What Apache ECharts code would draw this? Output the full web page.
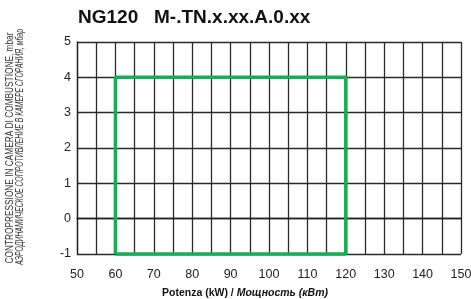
<!DOCTYPE html>
<html>
<head>
<meta charset="utf-8">
<script src="https://cdn.jsdelivr.net/npm/echarts@6/dist/echarts.min.js"></script>
<style>
  html, body { margin: 0; padding: 0; background: #fff; }
  #main { width: 471px; height: 299px; }
</style>
</head>
<body>
<div id="main"></div>
<script>
// working range outline (power kW, back pressure mbar)
var rangePower = [60, 60, 120, 120, 60];
var rangePressure = [-1, 4, 4, -1, -1];

var xMin = 50, xMax = 150, xStep = 10;
var yMin = -1, yMax = 5, yStep = 1;

var titleText = 'NG120   M-.TN.x.xx.A.0.xx';
var yName1 = 'CONTROPRESSIONE IN CAMERA DI COMBUSTIONE, mbar';
var yName2 = 'АЭРОДИНАМИЧЕСКОЕ СОПРОТИВЛЕНИЕ В КАМЕРЕ СГОРАНИЯ, мбар';

var font = 'Liberation Sans, Arial, sans-serif';

// squeeze the vertical labels to the height of the drawing
function fitScale(txt, style, target) {
    var ctx = document.createElement('canvas').getContext('2d');
    ctx.font = style;
    return target / ctx.measureText(txt).width;
}
var s1 = fitScale(yName1, '10px ' + font, 231);
var s2 = fitScale(yName2, 'italic 10px ' + font, 236);

var data = [];
for (var i = 0; i < rangePower.length; i++) {
    data.push([rangePower[i], rangePressure[i]]);
}

var myChart = echarts.init(document.getElementById('main'));
var option = {
    animation: false,
    title: {
        text: titleText,
        left: 78,
        top: 8,
        padding: 0,
        textStyle: { fontFamily: font, fontSize: 19, fontWeight: 'bold', color: '#111' }
    },
    grid: { left: 77, right: 10, top: 42, bottom: 45, outerBoundsMode: 'none', containLabel: false },
    xAxis: {
        type: 'value',
        min: xMin, max: xMax, interval: xStep,
        name: '{a|Potenza (kW) / }{b|Мощность (кВт)}',
        nameLocation: 'middle',
        nameGap: 34,
        nameTextStyle: {
            padding: [0, 48, 0, 0],
            rich: {
                a: { fontFamily: font, fontSize: 10.5, fontWeight: 'bold', color: '#111' },
                b: { fontFamily: font, fontSize: 10.5, fontWeight: 'bold', fontStyle: 'italic', color: '#111' }
            }
        },
        axisLine: { show: true, lineStyle: { color: '#222', width: 1.3 } },
        axisTick: { show: false },
        axisLabel: { fontFamily: font, fontSize: 12.5, color: '#222', margin: 14 },
        splitLine: { show: true, lineStyle: { color: '#2a2a2a', width: 1.3 } },
        minorTick: { show: false, splitNumber: 2 },
        minorSplitLine: { show: true, lineStyle: { color: '#2a2a2a', width: 1.3 } }
    },
    yAxis: {
        type: 'value',
        min: yMin, max: yMax, interval: yStep,
        axisLine: { show: true, lineStyle: { color: '#222', width: 1.3 } },
        axisTick: { show: false },
        axisLabel: { fontFamily: font, fontSize: 12.5, color: '#222', margin: 6 },
        splitLine: { show: true, lineStyle: { color: '#2a2a2a', width: 1.3 } }
    },
    graphic: [
        {
            type: 'text', x: 10, y: 148, rotation: Math.PI / 2, scaleX: s1,
            style: { text: yName1, fontFamily: font, fontSize: 10, fill: '#333',
                     textAlign: 'center', textVerticalAlign: 'middle' }
        },
        {
            type: 'text', x: 20, y: 147, rotation: Math.PI / 2, scaleX: s2,
            style: { text: yName2, fontFamily: font, fontSize: 10, fontStyle: 'italic', fill: '#333',
                     textAlign: 'center', textVerticalAlign: 'middle' }
        }
    ],
    series: [
        {
            type: 'line',
            data: data,
            symbol: 'none',
            clip: false,
            lineStyle: { color: '#17ad52', width: 3.5 },
            z: 5
        }
    ]
};
myChart.setOption(option);
</script>
</body>
</html>
